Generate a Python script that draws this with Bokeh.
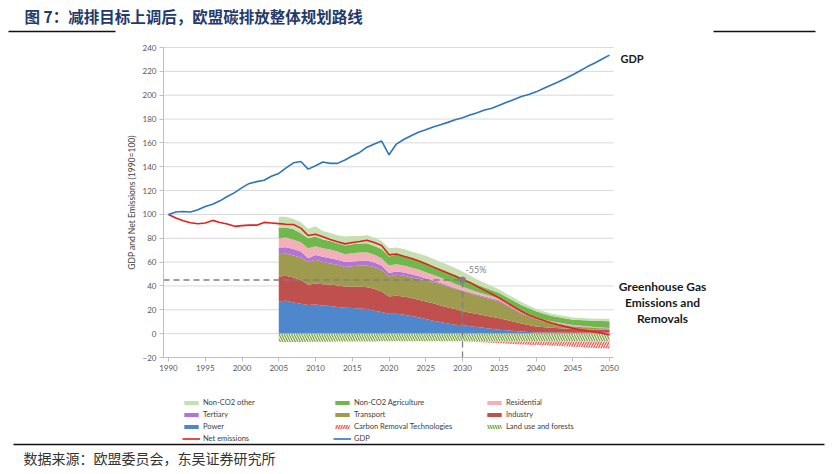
from bokeh.plotting import figure
from bokeh.models import ColumnDataSource, Legend, LegendItem, Label, FixedTicker, Range1d
from bokeh.embed import file_html
from bokeh.resources import INLINE

# ---------------- data ----------------
years = list(range(1990, 2051))
gdp = [100, 102, 102.5, 102, 104, 106.7, 108.6, 111.4, 115, 118.3,
       122.5, 126, 127.5, 128.6, 132, 134.4, 139, 143.3, 144.4, 138,
       140.8, 143.9, 142.8, 142.8, 145.6, 149, 152, 156.4, 159, 161.5,
       150, 159, 162.8, 166, 168.9, 171, 173.3, 175.3, 177.2, 179.4,
       181, 183.3, 185.3, 187.5, 189, 191.5, 194, 196.4, 198.9, 200.6,
       202.8, 205.6, 208.3, 211.1, 214, 217.2, 220.5, 224, 227, 230.3, 233.6]
net_emissions = [100, 97, 94.7, 93, 92.2, 92.8, 95, 93.3, 92, 90,
                 90.6, 91, 91, 93.3, 92.8, 92.3, 91.8, 91.6, 88.5, 82.3,
                 83.4, 81.2, 79, 77, 75.3, 76.4, 77.3, 78.4, 76.4, 74,
                 66.1, 66.7, 65, 63.3, 61.1, 58.6, 56, 53.3, 50.8, 48.3,
                 45.5, 43, 39.6, 36.3, 33.2, 29.9, 26, 22.4, 18.8, 15.7,
                 13.2, 11.2, 9.2, 7.5, 5.9, 4.5, 3.3, 2.5, 1.4, 0.3, -1.1]

area_years = list(range(2005, 2031)) + [2032, 2035, 2038, 2040, 2042, 2045, 2048, 2050]
power = [27, 27.6, 26.2, 25, 24, 24.5, 23.7, 23.2, 22.3, 21.8, 21.5, 21, 20.6, 19.2, 18.1,
         16.7, 16.7, 15.9, 14.8, 13.7, 12.3, 10.9, 9.8, 8.6, 7.5, 7,
         5.5, 3.3, 1.8, 1, 0.9, 0.8, 0.8, 0.8]
industry = [21, 20.9, 20.8, 20, 17, 17.5, 17.8, 18.1, 18.1, 17.8, 18.1, 18.6, 18.4, 18.5, 17.3,
            14.5, 15.1, 15.3, 15, 14.8, 14.7, 14.5, 13.9, 13.4, 13.1, 11.7,
            11, 9.7, 6.7, 5, 4.1, 3.2, 2.7, 2.5]
transport = [18.7, 18.7, 18.5, 18.9, 19, 20, 18.5, 17.6, 17.3, 16.4, 17, 17.6, 18.2, 18.1, 18.2,
             16.8, 17.6, 17.6, 17.3, 17.5, 17.6, 17.8, 17.9, 17.6, 17.1, 17.3,
             15.5, 14, 8.5, 6, 4, 2, 1.3, 0.9]
tertiary = [5.5, 5.3, 5.5, 5, 3.3, 4, 4.4, 4.4, 4.3, 4, 3.9, 3.8, 4.2, 3.9, 3.6,
            2.8, 2.8, 2.5, 2.8, 2.3, 1.7, 1.4, 1.1, 0.8, 0.5, 0.5,
            0.8, 1, 0.7, 0.5, 0.5, 0.5, 0.4, 0.3]
residential = [7.8, 8.1, 7.7, 7.8, 8.4, 7.4, 7.3, 7.3, 6.9, 6.7, 7, 7, 6.9, 6.4, 6.1,
               6.4, 6.1, 5.9, 5.6, 5.5, 5.3, 4.8, 4.4, 4, 3.4, 2.8,
               2.2, 1.5, 1.3, 1, 0.8, 0.7, 0.4, 0.3]
non_co2_agri = [9, 8.4, 8.9, 7.5, 8.3, 8.1, 7.3, 7.2, 7, 7.3, 7.5, 7.6, 7.6, 7.5, 7.8,
                7.5, 7.8, 7.5, 7.8, 7.6, 7.5, 7.2, 6.7, 6.9, 7.2, 7.3,
                6, 4.5, 5, 5.2, 4.7, 4.5, 5.2, 5.5]
non_co2_other = [9, 9, 8.6, 9.2, 8, 8.5, 7, 6.7, 6.7, 7.5, 7, 6.4, 6.7, 7, 6.7,
                 7, 6.1, 6.2, 5.6, 5.8, 6.2, 6.2, 6.2, 6.4, 6.2, 5.6,
                 4.5, 3, 2.5, 1.9, 2, 1.8, 1.8, 2.2]
land_use = [-7, -7, -7, -7, -6.8, -6.8, -6.7, -6.7, -6.6, -6.6, -6.6, -6.5, -6.5, -6.5, -6.4,
            -6.4, -6.4, -6.3, -6.3, -6.3, -6.3, -6.3, -6.3, -6.3, -6.3, -6.3,
            -6.4, -6.5, -6.5, -6.5, -6.5, -6.5, -6.5, -6.5]
carbon_removal = [0] * 26 + [-0.6, -1.5, -2.5, -3, -3.5, -4.5, -5.5, -6]

target_year = 2030
target_level = 45
target_label = "-55%"

x_ticks = list(range(1990, 2051, 5))
y_ticks = list(range(-20, 241, 20))

title_text = "图 7：减排目标上调后，欧盟碳排放整体规划路线"
source_text = "数据来源：欧盟委员会，东吴证券研究所"

# ---------------- layout helpers (canvas pixels -> data) ----------------
W, H = 830, 472
XS, XE, YS, YE = 1989.32, 2050.54, -20, 240     # chart area extent
FL, FR, FT, FB = 163, 613, 47, 357               # chart area on the canvas


def X(px):
    return XS + (px - FL) * (XE - XS) / (FR - FL)


def Y(py):
    return YE - (py - FT) * (YE - YS) / (FB - FT)


p = figure(width=W, height=H, output_backend="svg", toolbar_location=None,
           x_range=Range1d(X(0), X(W)), y_range=Range1d(Y(H), Y(0)),
           min_border=0, min_border_left=0, min_border_right=0,
           min_border_top=0, min_border_bottom=0)
p.outline_line_color = None
p.background_fill_color = "white"
p.border_fill_color = "white"
p.xgrid.visible = False
p.ygrid.visible = False

FONT = "Lato"
p.xaxis.ticker = FixedTicker(ticks=x_ticks)
p.yaxis.ticker = FixedTicker(ticks=y_ticks)
p.xaxis.fixed_location = YS
p.yaxis.fixed_location = XS
p.xaxis.bounds = (XS, XE)
p.yaxis.bounds = (YS, YE)
for ax in (p.xaxis[0], p.yaxis[0]):
    ax.axis_line_color = "#BFBFBF"
    ax.major_tick_line_color = "#BFBFBF"
    ax.major_tick_in = 0
    ax.major_tick_out = 4
    ax.minor_tick_line_color = None
    ax.major_label_text_font = FONT
    ax.major_label_text_font_size = "8px"
    ax.major_label_text_color = "#595959"
    ax.major_label_standoff = 3
p.yaxis.axis_label = "GDP and Net Emissions (1990=100)"
p.yaxis.axis_label_text_font = FONT
p.yaxis.axis_label_text_font_size = "8.5px"
p.yaxis.axis_label_text_font_style = "normal"
p.yaxis.axis_label_text_color = "#404040"
p.yaxis.axis_label_standoff = 3

# horizontal gridlines limited to the chart area
p.segment(x0=XS, x1=XE, y0=y_ticks, y1=y_ticks, line_color="#D9D9D9", line_width=1)

src = ColumnDataSource(dict(x=area_years, power=power, industry=industry, transport=transport,
                            tertiary=tertiary, residential=residential, agri=non_co2_agri,
                            other=non_co2_other, land=land_use, crt=carbon_removal))
stack_names = ["power", "industry", "transport", "tertiary", "residential", "agri", "other"]
stack_colors = ["#4F87CC", "#C0504D", "#9E9A4E", "#B374D8", "#F4B0BA", "#70B84B", "#C6E0B4"]
area_r = p.varea_stack(stackers=stack_names, x="x", color=stack_colors, source=src)

neg_r = p.varea_stack(stackers=["land", "crt"], x="x", source=src,
                      fill_color=["white", "white"],
                      hatch_pattern=["\\", "/"],
                      hatch_color=["#7FA84B", "#F0605A"],
                      hatch_scale=[5, 5], hatch_weight=[1.4, 1.4])

dash_col = "#7F7F7F"
p.segment(x0=XS, y0=target_level, x1=target_year, y1=target_level,
          line_color=dash_col, line_dash="6 4", line_width=1.3)
p.segment(x0=target_year, y0=YS, x1=target_year, y1=target_level,
          line_color=dash_col, line_dash="6 4", line_width=1.3)

net_r = p.line(years, net_emissions, line_color="#E3211C", line_width=1.6)
gdp_r = p.line(years, gdp, line_color="#2E75B6", line_width=1.6)
p.scatter([target_year], [target_level], size=6, color=dash_col)

p.add_layout(Label(x=target_year + 0.4, y=target_level + 8.5, text=target_label,
                   text_font=FONT, text_font_size="9px", text_color="#7F7F7F",
                   text_baseline="middle"))
p.add_layout(Label(x=X(620), y=Y(58), text="GDP", text_font=FONT, text_font_style="bold",
                   text_font_size="11px", text_color="#1A1A1A", text_baseline="middle"))
for txt, py in (("Greenhouse Gas", 286), ("Emissions and", 302), ("Removals", 318)):
    p.add_layout(Label(x=X(662), y=Y(py), text=txt, text_font=FONT, text_font_style="bold",
                       text_font_size="12px", text_color="#1A1A1A", text_baseline="middle",
                       text_align="center"))

p.add_layout(Label(x=X(24), y=Y(15), text=title_text, text_font="Noto Sans CJK SC",
                   text_font_style="bold", text_font_size="15.5px", text_color="#1F3A6B",
                   text_baseline="middle"))
p.add_layout(Label(x=X(23), y=Y(457), text=source_text, text_font="Noto Sans CJK SC",
                   text_font_size="14px", text_color="#333333", text_baseline="middle"))

for (a, b, py) in ((8, 115, 31), (713, 815, 31), (13, 824, 444)):
    p.segment(x0=X(a), y0=Y(py), x1=X(b), y1=Y(py), line_color="#111111", line_width=1.3)

names = dict(zip(stack_names, area_r))
legend_cols = [
    ([("Non-CO2 other", names["other"]), ("Tertiary", names["tertiary"]),
      ("Power", names["power"]), ("Net emissions", net_r)], 182),
    ([("Non-CO2 Agriculture", names["agri"]), ("Transport", names["transport"]),
      ("Carbon Removal Technologies", neg_r[1]), ("GDP", gdp_r)], 333),
    ([("Residential", names["residential"]), ("Industry", names["industry"]),
      ("Land use and forests", neg_r[0])], 485),
]
LEG_TOP = 397.5
for items, vx in legend_cols:
    n = len(items)
    height = n * 9 + (n - 1) * 3
    vy = H - (LEG_TOP + height)
    leg = Legend(items=[LegendItem(label=l, renderers=[r]) for l, r in items],
                 location=(vx, vy), orientation="vertical", glyph_width=18, glyph_height=5,
                 label_height=9, spacing=3, padding=0, margin=0, label_standoff=3,
                 label_text_font=FONT, label_text_font_size="7.5px", label_text_color="#404040",
                 border_line_alpha=0, background_fill_alpha=0)
    p.add_layout(leg, "center")

open("out.html", "w").write(file_html(p, INLINE))
